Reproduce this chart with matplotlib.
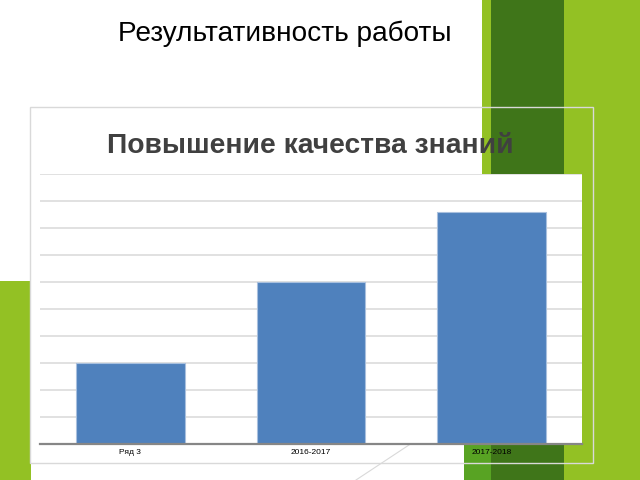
import matplotlib.pyplot as plt
from matplotlib.patches import Rectangle

# chart data
categories = ["Ряд 3", "2016-2017", "2017-2018"]
values = [3, 6, 8.6]

slide_title = "Результативность работы"
chart_title = "Повышение качества знаний"

W, H = 640, 480
light_green = "#93C124"
mid_green = "#58A323"
dark_green = "#3F7519"
bar_color = "#4F81BD"

plt.rcParams['font.family'] = ['Liberation Sans', 'DejaVu Sans']

fig = plt.figure(figsize=(6.4, 4.8), dpi=100)

# background layer in pixel coordinates (slide decoration)
bg = fig.add_axes([0, 0, 1, 1], zorder=-1)
bg.set_xlim(0, W)
bg.set_ylim(H, 0)
bg.axis('off')

bg.add_patch(Rectangle((0, 281), 31, H - 281, color=light_green, lw=0))
bg.add_patch(Rectangle((482, 0), W - 482, H, color=light_green, lw=0))
bg.add_patch(Rectangle((491, 0), 73, H, color=dark_green, lw=0))
bg.add_patch(Rectangle((464, 444), 27, H - 444, color=mid_green, lw=0))
bg.plot([412, 356], [443, 480], color="#D9D9D9", lw=0.8)
# chart frame
bg.add_patch(Rectangle((30, 107), 563, 356, fill=False, edgecolor="#D9D9D9", lw=1))

bg.text(284.5, 41, slide_title, fontsize=20.2, color="black", ha='center', va='baseline')
bg.text(310.5, 153, chart_title, fontsize=20.3, fontweight='bold', color="#404040",
        ha='center', va='baseline')

# plot area
x0, x1, y_top, y_bot = 40, 582, 174, 443.7
ax = fig.add_axes([x0 / W, 1 - y_bot / H, (x1 - x0) / W, (y_bot - y_top) / H])
ax.set_facecolor("white")

pos = range(len(categories))
ax.bar(pos, values, width=0.6, color=bar_color, edgecolor="#A9C0DE", lw=0.8, zorder=3)

ax.set_xlim(-0.5, len(categories) - 0.5)
ax.set_ylim(0, 10)
ax.set_yticks(range(0, 11))
ax.set_yticklabels([])
ax.yaxis.grid(True, color="#D9D9D9", lw=1.1)
ax.set_axisbelow(True)

ax.set_xticks(list(pos))
ax.set_xticklabels(categories, fontsize=6)
ax.tick_params(axis='both', length=0)
ax.tick_params(axis='x', pad=4)

for side in ['top', 'right', 'left']:
    ax.spines[side].set_visible(False)
ax.spines['bottom'].set_color("#868686")
ax.spines['bottom'].set_linewidth(1.6)
ax.spines['bottom'].set_zorder(4)

fig.savefig("out.png", dpi=100)
